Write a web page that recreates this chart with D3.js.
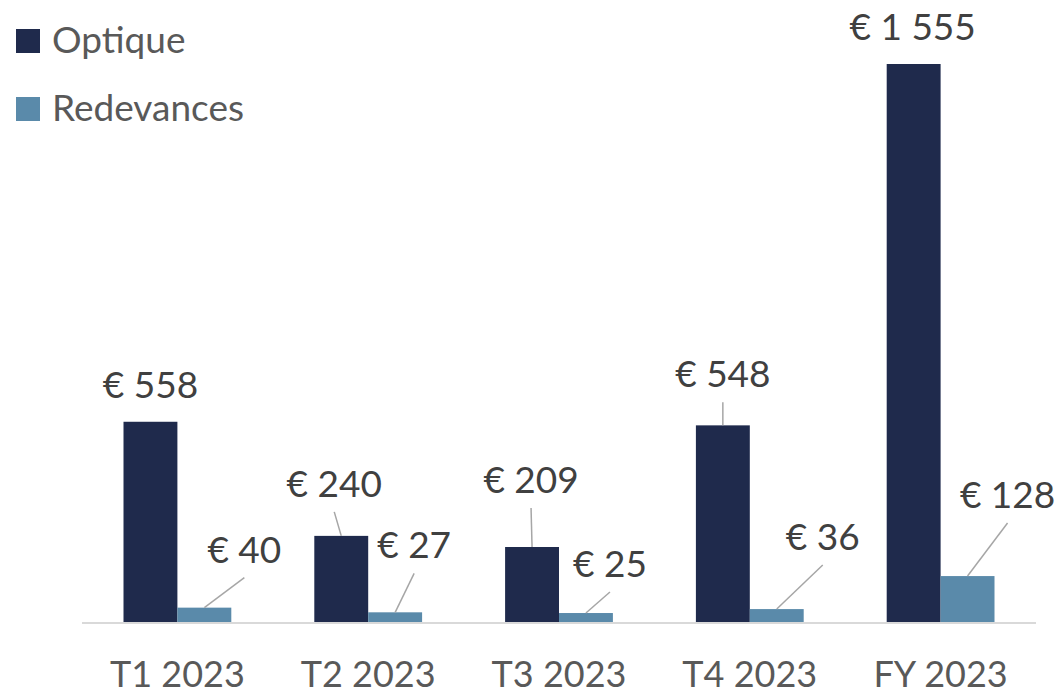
<!DOCTYPE html>
<html>
<head>
<meta charset="utf-8">
<script src="https://cdn.jsdelivr.net/npm/d3@7"></script>
<style>
  body { margin: 0; background: #fff; }
  text { font-family: Lato, "Open Sans", sans-serif; }
</style>
</head>
<body>
<svg id="chart" width="1061" height="696"></svg>
<script>
// revenue bars, Optique vs Redevances

var categories = ['T1 2023', 'T2 2023', 'T3 2023', 'T4 2023', 'FY 2023'];
var seriesNames = ['Optique', 'Redevances'];
var optique = [558, 240, 209, 548, 1555];
var redevances = [40, 27, 25, 36, 128];

// where excel dragged each data label (dx, dy from bar top centre)
var labelMoves = [
    [[0, -24], [40, -45]],
    [[-7, -39], [19, -54]],
    [[-1, -54], [24, -36]],
    [[0, -38], [46, -59]],
    [[-1, -24], [40, -68]]
];

var cmap = ['#1f2a4c', '#5a8aaa'];

var svg = d3.select("#chart");
var baseY = 622;
var x0 = d3.scaleBand().domain(categories).range([82, 1036]).paddingInner(0.435).paddingOuter(0.2175);
var x1 = d3.scaleBand().domain(seriesNames).range([0, x0.bandwidth()]);
var y = d3.scaleLinear().domain([0, 1555]).range([baseY, 64]);

var rows = categories.map(function(c, i) {
    return {cat: c, i: i, vals: [optique[i], redevances[i]]};
});

// baseline
svg.append("line")
    .attr("x1", x0.range()[0]).attr("x2", x0.range()[1])
    .attr("y1", baseY + 1).attr("y2", baseY + 1)
    .attr("stroke", "#d9d9d9")
    .attr("stroke-width", 2);

var grp = svg.selectAll("g.cat")
    .data(rows)
    .enter().append("g")
    .attr("class", "cat")
    .attr("transform", function(d) { return "translate(" + x0(d.cat) + ",0)"; });

var bars = grp.selectAll("g.bar")
    .data(function(d) {
        return seriesNames.map(function(s, k) {
            return {s: s, k: k, v: d.vals[k], move: labelMoves[d.i][k]};
        });
    })
    .enter().append("g").attr("class", "bar");

bars.append("rect")
    .attr("x", function(d) { return x1(d.s); })
    .attr("y", function(d) { return y(d.v); })
    .attr("width", x1.bandwidth())
    .attr("height", function(d) { return baseY - y(d.v); })
    .attr("fill", function(d) { return cmap[d.k]; });

// leader lines for the labels that got moved
bars.filter(function(d) { return d.move[1] < -30; })
    .append("line")
    .attr("x1", function(d) { return x1(d.s) + x1.bandwidth() / 2 + d.move[0]; })
    .attr("y1", function(d) { return y(d.v) + d.move[1] + 15; })
    .attr("x2", function(d) { return x1(d.s) + x1.bandwidth() / 2; })
    .attr("y2", function(d) { return y(d.v); })
    .attr("stroke", "#a6a6a6")
    .attr("stroke-width", 1.5);

var fmt = function(v) { return "€ " + d3.format(",")(v).replace(",", " "); };

bars.append("text")
    .attr("x", function(d) { return x1(d.s) + x1.bandwidth() / 2 + d.move[0]; })
    .attr("y", function(d) { return y(d.v) + d.move[1]; })
    .attr("text-anchor", "middle")
    .attr("font-size", 37)
    .attr("fill", "#404040")
    .text(function(d) { return fmt(d.v); });

// category labels
svg.append("g").selectAll("text")
    .data(categories)
    .enter().append("text")
    .attr("x", function(d) { return x0(d) + x0.bandwidth() / 2; })
    .attr("y", 687)
    .attr("text-anchor", "middle")
    .attr("font-size", 36)
    .attr("fill", "#595959")
    .text(function(d) { return d; });

// legend
var leg = svg.append("g").selectAll("g")
    .data(seriesNames)
    .enter().append("g")
    .attr("transform", function(d, i) { return "translate(16," + (29 + 68 * i) + ")"; });

leg.append("rect")
    .attr("width", 24).attr("height", 24)
    .attr("fill", function(d, i) { return cmap[i]; });

leg.append("text")
    .attr("x", 36).attr("y", 24)
    .attr("font-size", 37)
    .attr("fill", "#595959")
    .text(function(d) { return d; });
</script>
</body>
</html>
